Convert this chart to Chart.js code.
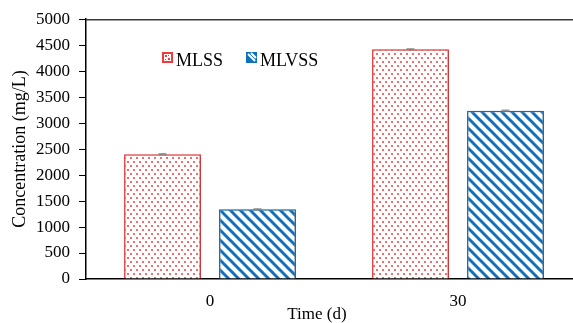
<!DOCTYPE html>
<html>
<head>
<meta charset="utf-8">
<script src="https://cdn.jsdelivr.net/npm/chart.js@4.4.1/dist/chart.umd.min.js"></script>
<style>
  html, body { margin: 0; padding: 0; background: #fff; overflow: hidden; }
  #wrap { width: 573px; height: 323px; overflow: hidden; }
</style>
</head>
<body>
<div id="wrap"><canvas id="chart" width="600" height="323"></canvas></div>
<script>
// Data
const categories = ['0', '30'];
const seriesNames = ['MLSS', 'MLVSS'];
const mlss = [2400, 4420];
const mlvss = [1340, 3240];
const mlssErr = [10, 10];
const mlvssErr = [10, 10];
const yTicks = [0, 500, 1000, 1500, 2000, 2500, 3000, 3500, 4000, 4500, 5000];
const xTitle = 'Time (d)';
const yTitle = 'Concentration (mg/L)';

const FONT = '"Liberation Serif", "Times New Roman", serif';
const RED = '#ef3b3b';
const BLUE = '#1170bd';

// Dotted pattern for MLSS
function dotPattern() {
    const c = document.createElement('canvas');
    c.width = 6; c.height = 8;
    const g = c.getContext('2d');
    g.fillStyle = '#fff';
    g.fillRect(0, 0, 6, 8);
    g.fillStyle = 'rgba(240, 70, 70, 0.8)';
    g.fillRect(1, 1, 2, 2);
    g.fillRect(4, 5, 2, 2);
    return g.createPattern(c, 'repeat');
}

// Diagonal stripes (top-left to bottom-right) for MLVSS
function stripePattern() {
    const c = document.createElement('canvas');
    c.width = 10; c.height = 10;
    const g = c.getContext('2d');
    g.fillStyle = '#fff';
    g.fillRect(0, 0, 10, 10);
    g.strokeStyle = BLUE;
    g.lineWidth = 3;
    for (let k = -1; k <= 1; k++) {
        g.beginPath();
        g.moveTo(-5, -5 + k * 10);
        g.lineTo(15, 15 + k * 10);
        g.stroke();
    }
    return g.createPattern(c, 'repeat');
}

// Small legend icons
function legendIcon(kind) {
    const c = document.createElement('canvas');
    c.width = 11; c.height = 11;
    const g = c.getContext('2d');
    if (kind === 0) {
        g.fillStyle = RED;
        g.fillRect(0, 0, 11, 11);
        g.fillStyle = '#fff';
        g.fillRect(2, 2, 7, 7);
        g.fillStyle = RED;
        g.fillRect(3, 3, 2, 2);
        g.fillRect(6, 6, 2, 2);
        g.fillRect(6, 3, 1, 1);
        g.fillRect(3, 7, 1, 1);
    } else {
        g.fillStyle = BLUE;
        g.fillRect(0, 0, 11, 11);
        g.strokeStyle = '#fff';
        g.lineWidth = 2;
        g.beginPath();
        g.moveTo(2, 2);
        g.lineTo(9, 9);
        g.stroke();
        g.beginPath();
        g.moveTo(5, 1);
        g.lineTo(10, 6);
        g.stroke();
    }
    return c;
}

const errors = [mlssErr, mlvssErr];

// bar shadow, error caps, frame line, legend and axis titles
const extras = {
    id: 'extras',
    beforeDatasetsDraw(chart) {
        const ctx = chart.ctx;
        ctx.save();
        ctx.shadowColor = 'rgba(0,0,0,0.3)';
        ctx.shadowBlur = 3;
        ctx.shadowOffsetX = 1;
        ctx.shadowOffsetY = 1;
    },
    afterDatasetsDraw(chart) {
        const ctx = chart.ctx;
        ctx.restore();
        const ys = chart.scales.y;
        chart.data.datasets.forEach((ds, i) => {
            const meta = chart.getDatasetMeta(i);
            meta.data.forEach((bar, j) => {
                const v = ds.data[j];
                const e = errors[i][j];
                const top = ys.getPixelForValue(v + e);
                const bot = ys.getPixelForValue(v - e);
                ctx.save();
                ctx.strokeStyle = '#7f7f7f';
                ctx.lineWidth = 1;
                ctx.beginPath();
                ctx.moveTo(bar.x, top);
                ctx.lineTo(bar.x, bot);
                ctx.moveTo(bar.x - 4, top);
                ctx.lineTo(bar.x + 4, top);
                ctx.moveTo(bar.x - 4, bot);
                ctx.lineTo(bar.x + 4, bot);
                ctx.stroke();
                ctx.restore();
            });
        });
    },
    afterDraw(chart) {
        const ctx = chart.ctx;
        const a = chart.chartArea;
        ctx.save();
        // top frame line
        ctx.strokeStyle = '#3a3a3a';
        ctx.lineWidth = 1.5;
        ctx.beginPath();
        ctx.moveTo(a.left, a.top + 0.5);
        ctx.lineTo(chart.width, a.top + 0.5);
        ctx.stroke();

        // legend inside plot
        ctx.font = '18px ' + FONT;
        ctx.fillStyle = '#000';
        ctx.textBaseline = 'alphabetic';
        const lx = [162, 246];
        seriesNames.forEach((name, i) => {
            ctx.drawImage(legendIcon(i), lx[i], 52);
            ctx.fillText(name, lx[i] + 14, 66);
        });

        // axis titles
        ctx.font = '17px ' + FONT;
        ctx.textAlign = 'center';
        ctx.textBaseline = 'middle';
        ctx.fillText(xTitle, 317, 315);
        ctx.translate(20, (a.top + a.bottom) / 2);
        ctx.rotate(-Math.PI / 2);
        ctx.font = '18px ' + FONT;
        ctx.fillText(yTitle, 0, 0);
        ctx.restore();
    }
};

new Chart(document.getElementById('chart'), {
    type: 'bar',
    data: {
        labels: categories,
        datasets: [
            {
                label: seriesNames[0],
                data: mlss,
                backgroundColor: dotPattern(),
                borderColor: RED,
                borderWidth: 1.5
            },
            {
                label: seriesNames[1],
                data: mlvss,
                backgroundColor: stripePattern(),
                borderColor: BLUE,
                borderWidth: 1.5
            }
        ]
    },
    options: {
        responsive: false,
        animation: false,
        layout: { padding: { top: 19, right: 18, left: 0, bottom: 0 } },
        categoryPercentage: 0.766,
        barPercentage: 0.81,
        plugins: {
            legend: { display: false },
            tooltip: { enabled: false }
        },
        scales: {
            x: {
                grid: { display: false, drawTicks: false },
                border: { color: '#000', width: 1.5 },
                ticks: {
                    color: '#000',
                    font: { family: FONT, size: 17 },
                    padding: 12
                },
                afterFit(scale) { scale.height = 44; }
            },
            y: {
                min: 0,
                max: 5000,
                afterBuildTicks(scale) {
                    scale.ticks = yTicks.map(v => ({ value: v }));
                },
                grid: {
                    drawOnChartArea: false,
                    drawTicks: true,
                    tickLength: 7,
                    color: '#000'
                },
                border: { color: '#000', width: 1.5 },
                ticks: {
                    color: '#000',
                    font: { family: FONT, size: 17 },
                    padding: 9,
                    callback: v => String(v)
                },
                afterFit(scale) { scale.width = 86; }
            }
        }
    },
    plugins: [extras]
});
</script>
</body>
</html>
